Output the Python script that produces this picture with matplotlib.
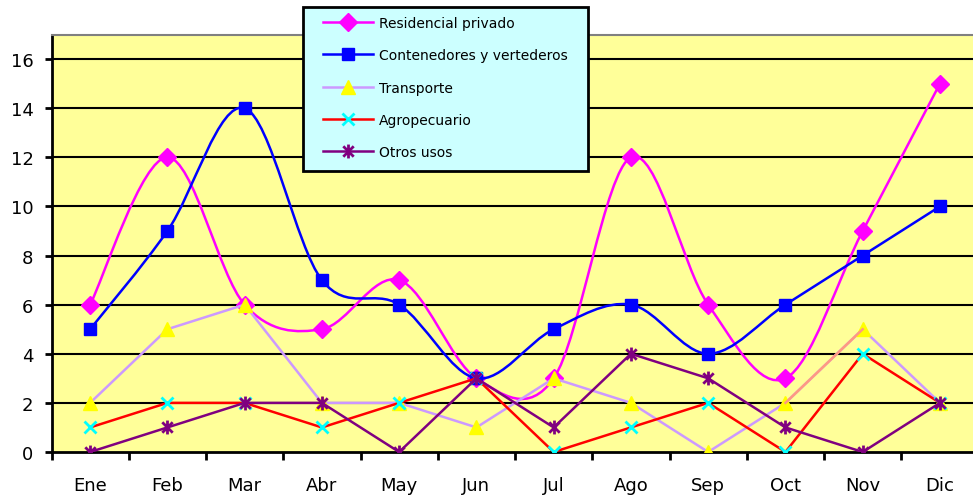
import numpy as np
import matplotlib.pyplot as plt
from matplotlib.path import Path
from matplotlib.patches import PathPatch, Rectangle
from matplotlib.lines import Line2D

plt.rcParams['font.family'] = ['DejaVu Sans']

# Data
months = ['Ene', 'Feb', 'Mar', 'Abr', 'May', 'Jun', 'Jul', 'Ago', 'Sep', 'Oct', 'Nov', 'Dic']
residencial = [6, 12, 6, 5, 7, 3, 3, 12, 6, 3, 9, 15]
contenedores = [5, 9, 14, 7, 6, 3, 5, 6, 4, 6, 8, 10]
transporte = [2, 5, 6, 2, 2, 1, 3, 2, 0, 2, 5, 2]
agropecuario = [1, 2, 2, 1, 2, 3, 0, 1, 2, 0, 4, 2]
otros = [0, 1, 2, 2, 0, 3, 1, 4, 3, 1, 0, 2]

x = np.arange(len(months))

# asterisk marker like Excel (vertical bar + x)
ast = Path([(0, -1), (0, 1), (-0.75, -0.75), (0.75, 0.75), (-0.75, 0.75), (0.75, -0.75)],
           [Path.MOVETO, Path.LINETO, Path.MOVETO, Path.LINETO, Path.MOVETO, Path.LINETO])


def smooth_path(xs, ys):
    # Bezier curve through the points (Catmull-Rom style, like Excel smoothed lines)
    pts = np.column_stack([xs, ys]).astype(float)
    n = len(pts)
    verts = [pts[0]]
    codes = [Path.MOVETO]
    for i in range(n - 1):
        p0 = pts[i - 1] if i > 0 else pts[i]
        p1 = pts[i]
        p2 = pts[i + 1]
        p3 = pts[i + 2] if i + 2 < n else pts[i + 1]
        c1 = p1 + (p2 - p0) / 6.0
        c2 = p2 - (p3 - p1) / 6.0
        verts += [c1, c2, p2]
        codes += [Path.CURVE4] * 3
    return Path(verts, codes)


fig = plt.figure(figsize=(9.73, 5.02), dpi=100)
ax = fig.add_axes([51.5 / 973, 49 / 502, (978.6 - 51.5) / 973, (466.5 - 49) / 502])
ax.set_facecolor('#FFFF99')

ax.set_xlim(-0.5, 11.5)
ax.set_ylim(0, 17)

# gridlines
for v in range(2, 17, 2):
    ax.axhline(v, color='black', lw=1.5, zorder=1)

lw = 1.8
# smoothed series
ax.add_patch(PathPatch(smooth_path(x, residencial), fill=False, edgecolor='#FF00FF', lw=lw, zorder=3))
ax.plot(x, residencial, ls='none', marker='D', ms=9, color='#FF00FF', zorder=3)
ax.add_patch(PathPatch(smooth_path(x, contenedores), fill=False, edgecolor='#0000FF', lw=lw, zorder=4))
ax.plot(x, contenedores, ls='none', marker='s', ms=8.5, color='#0000FF', zorder=4)

# straight series
ax.plot(x, transporte, color='#CC99FF', lw=lw, marker='^', ms=10, mfc='#FFFF00', mec='#FFFF00', zorder=5)
ax.plot(x[9:11], transporte[9:11], color='#FF9980', lw=lw, zorder=5)
ax.plot(x, agropecuario, color='#FF0000', lw=lw, marker='x', ms=9, mew=2, mec='#00FFFF', zorder=6)
ax.plot(x, otros, color='#800080', lw=lw, marker=ast, ms=10, mew=2, mec='#800080', zorder=7)

# axes styling
ax.spines['right'].set_visible(False)
ax.spines['top'].set_color('#808080')
ax.spines['top'].set_linewidth(1.5)
ax.spines['left'].set_linewidth(2)
ax.spines['bottom'].set_linewidth(2)

ax.set_yticks(range(0, 17, 2))
ax.tick_params(axis='y', length=5, width=2, pad=8, labelsize=13)
ax.set_xticks(np.arange(-0.5, 12, 1))
ax.set_xticklabels([])
ax.tick_params(axis='x', which='major', length=6, width=2)
ax.set_xticks(x, minor=True)
ax.set_xticklabels(months, minor=True)
ax.tick_params(axis='x', which='minor', length=0, pad=17, labelsize=13)

# legend box
fig.patches.append(Rectangle((303 / 973, 1 - 172 / 502), 285 / 973, 164 / 502,
                             transform=fig.transFigure, facecolor='#CCFFFF',
                             edgecolor='black', lw=2, zorder=9))

handles = [
    Line2D([], [], color='#FF00FF', lw=lw, marker='D', ms=9),
    Line2D([], [], color='#0000FF', lw=lw, marker='s', ms=8.5),
    Line2D([], [], color='#CC99FF', lw=lw, marker='^', ms=10, mfc='#FFFF00', mec='#FFFF00'),
    Line2D([], [], color='#FF0000', lw=lw, marker='x', ms=9, mew=2, mec='#00FFFF'),
    Line2D([], [], color='#800080', lw=lw, marker=ast, ms=10, mew=2, mec='#800080'),
]
labels = ['Residencial privado', 'Contenedores y vertederos', 'Transporte', 'Agropecuario', 'Otros usos']
leg = fig.legend(handles, labels, loc='upper left', bbox_to_anchor=(323 / 973, 1 - 17 / 502),
                 fontsize=10, frameon=False, handlelength=3.6,
                 handletextpad=0.4, labelspacing=1.32, borderpad=0, borderaxespad=0)
leg.set_zorder(10)

fig.savefig('out.png', dpi=100)
